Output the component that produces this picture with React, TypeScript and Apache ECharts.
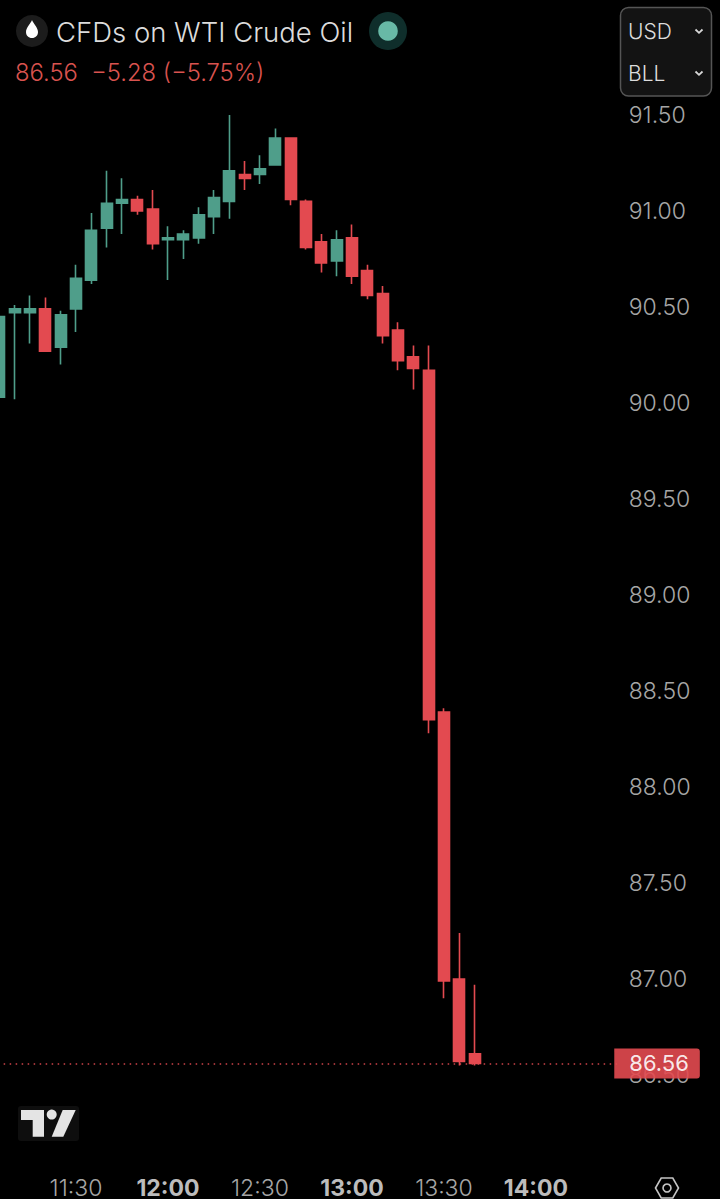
import React, { useEffect, useRef } from "react";
import * as echarts from "echarts";

const times = [
  "11:05","11:10","11:15","11:20","11:25","11:30","11:35","11:40","11:45","11:50","11:55",
  "12:00","12:05","12:10","12:15","12:20","12:25","12:30","12:35","12:40","12:45","12:50","12:55",
  "13:00","13:05","13:10","13:15","13:20","13:25","13:30","13:35","13:40","13:45","13:50","13:55",
  "14:00","14:05","14:10","14:15","14:20","14:25",
];
const opens = [90.03,90.47,90.47,90.49,90.29,90.49,90.64,90.91,91.04,91.06,91.01,90.85,90.85,90.86,90.97,91.05,91.19,91.19,91.24,91.38,91.05,90.84,90.74,90.86,90.69,90.57,90.38,90.24,90.17,88.39,87.0,86.61];
const closes = [90.45,90.49,90.49,90.27,90.46,90.65,90.9,91.04,91.06,91.0,90.83,90.86,90.88,90.98,91.07,91.21,91.17,91.22,91.38,91.06,90.81,90.73,90.85,90.66,90.56,90.35,90.22,90.18,88.35,86.99,86.57,86.56];
const lows = [90.03,90.02,90.31,90.27,90.2,90.37,90.62,90.81,90.88,90.98,90.8,90.64,90.75,90.83,90.88,90.96,91.11,91.14,91.24,91.03,90.8,90.68,90.66,90.62,90.54,90.31,90.17,90.07,88.28,86.9,86.55,86.55];
const highs = [90.45,90.51,90.56,90.55,90.48,90.72,90.99,91.21,91.17,91.08,91.11,90.92,90.9,91.02,91.11,91.5,91.26,91.29,91.43,91.38,91.06,90.88,90.9,90.93,90.72,90.61,90.42,90.3,90.3,88.41,87.24,86.97];
const lastPrice = 86.56;
const hourLabels = ["12:00", "13:00", "14:00"];
const halfHourLabels = ["11:30", "12:30", "13:30"];
const titleText = "CFDs on WTI Crude Oil";
const quoteText = "86.56  \u22125.28 (\u22125.75%)";

const RED = "#e34a50";
const GREEN = "#4f9e8a";
const FONT = "Inter, 'Noto Sans', sans-serif";
const DROP = "M6 0 C7 3 12 7.5 12 12 C12 15.5 9.5 18 6 18 C2.5 18 0 15.5 0 12 C0 7.5 5 3 6 0 Z";

export default function App() {
  const ref = useRef<HTMLDivElement>(null);
  useEffect(() => {
    document.body.style.margin = "0";
    document.body.style.background = "#000";
    echarts.graphic.registerShape("dropIcon", echarts.graphic.extendPath(DROP, {}) as any);
    const chart = echarts.init(ref.current!, undefined, { renderer: "svg" });
    const chevron = (cy: number) => ({
      type: "polyline",
      shape: { points: [[695.5, cy - 1.5], [699, cy + 1.8], [702.5, cy - 1.5]] },
      style: { stroke: "#d8d8d8", fill: "none", lineWidth: 1.8 },
    });
    chart.setOption({
      animation: false,
      backgroundColor: "#000",
      grid: { left: -8.33, top: 115, width: 628.6, height: 1056, outerBoundsMode: "none" },
      xAxis: {
        type: "category",
        data: times,
        axisLine: { show: false },
        axisTick: { show: false },
        splitLine: { show: false },
        axisLabel: {
          margin: 7,
          hideOverlap: false,
          interval: (_: number, v: string) => hourLabels.includes(v) || halfHourLabels.includes(v),
          formatter: (v: string) => (hourLabels.includes(v) ? `{b|${v}}` : `{n|${v}}`),
          rich: {
            b: { fontFamily: FONT, fontSize: 23, fontWeight: 700, color: "#bcbcbc", lineHeight: 20 },
            n: { fontFamily: FONT, fontSize: 23, fontWeight: 300, color: "#a6a6a6", lineHeight: 20 },
          },
        },
      },
      yAxis: {
        type: "value",
        position: "right",
        min: 86,
        max: 91.5,
        interval: 0.5,
        axisLine: { show: false },
        axisTick: { show: false },
        splitLine: { show: false },
        axisLabel: {
          margin: 8.5,
          showMinLabel: false,
          color: "#a6a6a6",
          fontFamily: FONT,
          fontSize: 23,
          fontWeight: 300,
          formatter: (v: number) => v.toFixed(2),
        },
      },
      series: [
        {
          type: "candlestick",
          barWidth: 11.4,
          data: opens.map((o, i) => [o, closes[i], lows[i], highs[i]]),
          itemStyle: { color: GREEN, borderColor: GREEN, color0: RED, borderColor0: RED, borderWidth: 1.6 },
          markLine: {
            silent: true,
            symbol: "none",
            animation: false,
            lineStyle: { color: RED, type: [1.5, 4.5], width: 1.5, opacity: 0.9 },
            label: {
              show: true,
              position: "end",
              distance: -6,
              formatter: lastPrice.toFixed(2),
              backgroundColor: RED,
              color: "#fff",
              fontFamily: FONT,
              fontSize: 22,
              fontWeight: 400,
              lineHeight: 30,
              padding: [0, 11, 0, 15],
              borderRadius: [0, 3, 3, 0],
            },
            data: [{ yAxis: lastPrice }],
          },
        },
      ],
      graphic: [
        { type: "circle", shape: { cx: 32, cy: 31, r: 16 }, style: { fill: "#1c1c1c" } },
        { type: "dropIcon", x: 26, y: 20, style: { fill: "#ffffff" } },
        {
          type: "text", x: 56, y: 32,
          style: { text: titleText, fill: "#dcdcdc", fontFamily: FONT, fontSize: 27.5, fontWeight: 300, verticalAlign: "middle" },
        },
        { type: "circle", shape: { cx: 388, cy: 31, r: 19 }, style: { fill: "#0f2e2b" } },
        { type: "circle", shape: { cx: 388, cy: 31, r: 9.8 }, style: { fill: "#68b9a6" } },
        {
          type: "text", x: 15, y: 72,
          style: { text: quoteText, fill: "#d9534f", fontFamily: FONT, fontSize: 23.8, fontWeight: 300, verticalAlign: "middle" },
        },
        {
          type: "rect",
          shape: { x: 620.5, y: 7.5, width: 91, height: 88.5, r: 8 },
          style: { fill: "#131313", stroke: "#555555", lineWidth: 1.5 },
        },
        {
          type: "text", x: 628, y: 31,
          style: { text: "USD", fill: "#dcdcdc", fontFamily: FONT, fontSize: 21, fontWeight: 300, verticalAlign: "middle" },
        },
        {
          type: "text", x: 628, y: 73,
          style: { text: "BLL", fill: "#dcdcdc", fontFamily: FONT, fontSize: 21, fontWeight: 300, verticalAlign: "middle" },
        },
        chevron(31),
        chevron(73),
        { type: "rect", shape: { x: 18, y: 1106, width: 61, height: 35, r: 3 }, style: { fill: "#0e0e0e" } },
        {
          type: "polygon",
          shape: { points: [[21, 1110], [44, 1110], [44, 1136.7], [32.7, 1136.7], [32.7, 1120], [21, 1120]] },
          style: { fill: "#e4e4e4" },
        },
        { type: "circle", shape: { cx: 51.7, cy: 1114.6, r: 5 }, style: { fill: "#e4e4e4" } },
        {
          type: "polygon",
          shape: { points: [[62.7, 1110], [75.7, 1110], [63.3, 1136.7], [51.7, 1136.7]] },
          style: { fill: "#e4e4e4" },
        },
        {
          type: "polygon",
          shape: { points: [[655.5, 1188], [661.2, 1178], [672.8, 1178], [678.5, 1188], [672.8, 1198], [661.2, 1198]] },
          style: { fill: "none", stroke: "#c4c4c4", lineWidth: 1.6 },
        },
        { type: "circle", shape: { cx: 667, cy: 1188, r: 4 }, style: { fill: "none", stroke: "#c4c4c4", lineWidth: 1.6 } },
      ],
    });
    return () => chart.dispose();
  }, []);
  return <div ref={ref} style={{ position: "absolute", left: 0, top: 0, width: 720, height: 1199, background: "#000" }} />;
}
